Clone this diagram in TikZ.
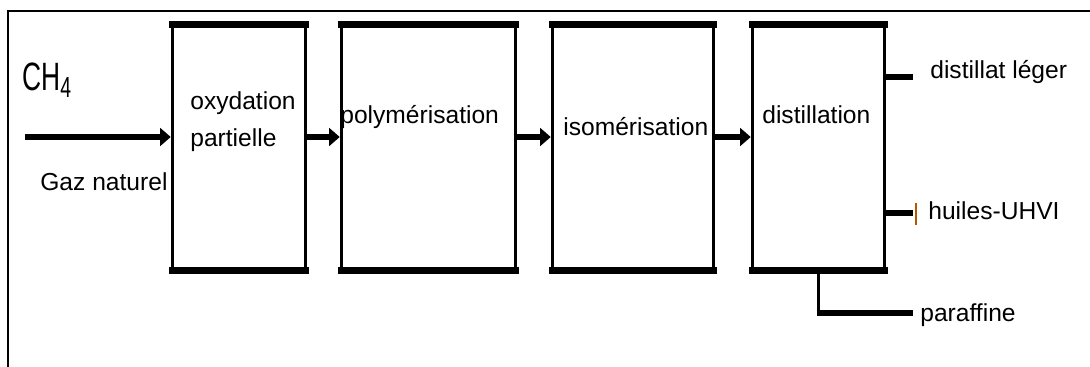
\documentclass[tikz,border=0pt]{standalone}
\usepackage{fontspec}
\setmainfont{Liberation Sans}
\usetikzlibrary{arrows.meta,positioning,calc}

\begin{document}
\begin{tikzpicture}[
    x=0.02cm, y=-0.02cm,
    unit/.style={
        rectangle,
        draw,
        line width=2pt,
        minimum width=#1,
        minimum height=4.86cm,
        inner sep=0pt
    },
    rim/.style={line width=4.2pt},
    flow/.style={line width=2.9pt, -{Triangle[length=6pt,width=10pt]}},
    outlet/.style={line width=3.4pt},
    txt/.style={anchor=west, inner sep=0pt, font=\fontsize{14}{16}\selectfont}
]
\useasboundingbox (0,0) rectangle (1090,367);

% ---------------- Frame ----------------
\draw[line width=1.3pt] (8,367) -- (8,11) -- (1090,11);

% ---------------- Units ----------------
\node[unit=2.66cm] (b1) at (239,147.5) {};
\node[unit=3.48cm] (b2) at (428.5,147.5) {};
\node[unit=3.22cm] (b3) at (633,147.5) {};
\node[unit=2.64cm] (b4) at (818.5,147.5) {};
\foreach \b in {b1,b2,b3,b4} {
    \draw[rim] ([xshift=-1pt]\b.north west) -- ([xshift=1pt]\b.north east);
    \draw[rim] ([xshift=-1pt]\b.south west) -- ([xshift=1pt]\b.south east);
}

% ---------------- Labels ----------------
\node[txt] (t1a) at (190,103) {oxydation};
\node[txt] (t1b) at (190,140) {partielle};
\node[txt] (t2) at (340,117) {polymérisation};
\node[txt] (t3) at (563,127) {isomérisation};
\node[txt] (t4) at (762,115) {distillation};

% ---------------- Feed ----------------
\coordinate (feed) at (25,137);
\draw[flow] (feed) -- (feed -| b1.west);
\node[txt, font=\fontsize{15}{16}\selectfont] (ch4) at (22,80)
    {\scalebox{1}[1.5]{CH\raisebox{-0.35ex}{\fontsize{11}{12}\selectfont 4}}};
\node[txt] (gaz) at (40,182) {Gaz naturel};

% ---------------- Between units ----------------
\draw[flow] ([yshift=0.21cm]b1.east) -- ([yshift=0.21cm]b2.west);
\draw[flow] ([yshift=0.21cm]b2.east) -- ([yshift=0.21cm]b3.west);
\draw[flow] ([yshift=0.21cm]b3.east) -- ([yshift=0.21cm]b4.west);

% ---------------- Products ----------------
\coordinate (o1) at (913,77);
\coordinate (o2) at (913,213);
\coordinate (o3) at (913,313);
\draw[outlet] (o1 -| b4.east) -- (o1);
\draw[outlet] (o2 -| b4.east) -- (o2);
\draw[orange!70!black, line width=0.8pt] (916,203) -- (916,225);
\draw[line width=2pt] (o3 -| b4.south) -- (b4.south);
\draw[outlet] ([xshift=-1pt]o3 -| b4.south) -- (o3);
\node[txt] (p1) at (930,72) {distillat léger};
\node[txt] (p2) at (928,211) {huiles-UHVI};
\node[txt] (p3) at (920,315) {paraffine};

\end{tikzpicture}
\end{document}
